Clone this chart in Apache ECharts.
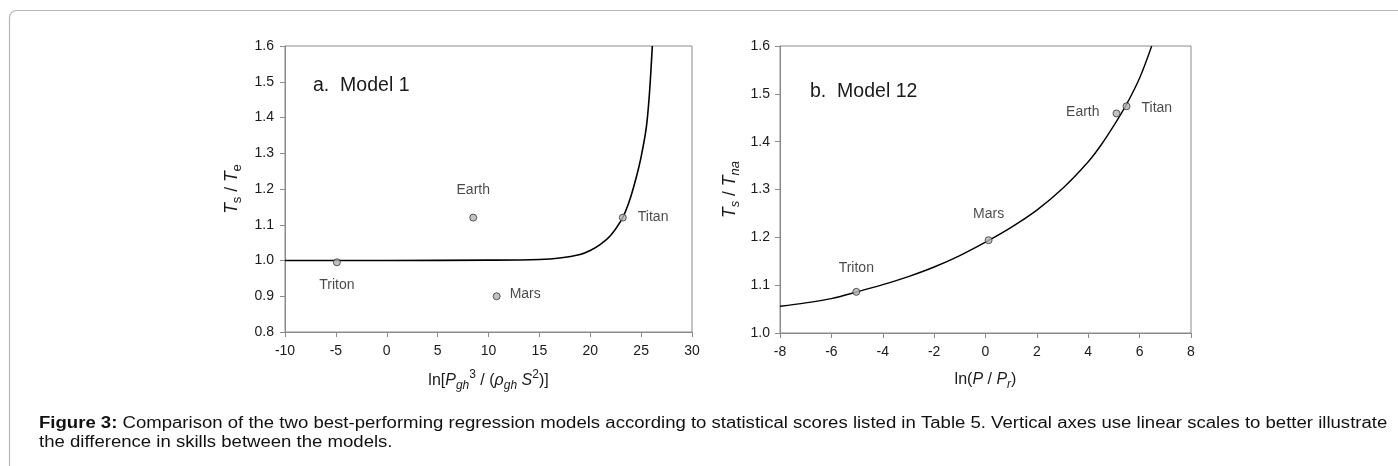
<!DOCTYPE html>
<html>
<head>
<meta charset="utf-8">
<script src="https://cdn.jsdelivr.net/npm/echarts@6/dist/echarts.min.js"></script>
<style>
html,body{margin:0;padding:0;background:#fff;}
#c{width:1398px;height:466px;}
</style>
</head>
<body>
<div id="c"></div>
<script>
// ---- Panel a (Model 1) ----
const aNames = ['Triton', 'Earth', 'Mars', 'Titan'];
const aX = [-4.9, 8.5, 10.8, 23.2];
const aY = [0.995, 1.12, 0.90, 1.12];
const aCurveX = [-10, 0, 10, 15, 17, 19, 20, 21, 22, 23, 23.5, 24, 24.5, 25, 25.5, 25.8, 26.1];
const aCurveY = [1.0, 1.0, 1.001, 1.003, 1.007, 1.017, 1.028, 1.045, 1.07, 1.11, 1.14, 1.18, 1.23, 1.29, 1.37, 1.46, 1.6];
const aXTicks = [-10, -5, 0, 5, 10, 15, 20, 25, 30];
const aYTicks = [0.8, 0.9, 1.0, 1.1, 1.2, 1.3, 1.4, 1.5, 1.6];

// ---- Panel b (Model 12) ----
const bNames = ['Triton', 'Mars', 'Earth', 'Titan'];
const bX = [-5.03, 0.12, 5.1, 5.49];
const bY = [1.086, 1.194, 1.459, 1.474];
const bCurveX = [-8, -7, -6, -5, -4, -3, -2, -1, 0, 1, 2, 3, 4, 4.5, 5, 5.5, 6, 6.47];
const bCurveY = [1.056, 1.063, 1.072, 1.086, 1.101, 1.118, 1.138, 1.162, 1.190, 1.221, 1.257, 1.302, 1.358, 1.393, 1.434, 1.479, 1.533, 1.6];
const bXTicks = [-8, -6, -4, -2, 0, 2, 4, 6, 8];
const bYTicks = [1.0, 1.1, 1.2, 1.3, 1.4, 1.5, 1.6];

const captionLine1 = 'Comparison of the two best-performing regression models according to statistical scores listed in Table 5. Vertical axes use linear scales to better illustrate';
const captionLine2 = 'the difference in skills between the models.';

const FONT = 'Liberation Sans, Arial, sans-serif';
const AX = '#8a8a8a';
const TXT = '#1a1a1a';

function mkRich(main, small) {
  return {
    n: {fontSize: main, fontFamily: FONT, color: TXT, lineHeight: main + 7, verticalAlign: 'middle'},
    i: {fontSize: main, fontFamily: FONT, fontStyle: 'italic', color: TXT, lineHeight: main + 7, verticalAlign: 'middle'},
    sub: {fontSize: small, fontFamily: FONT, fontStyle: 'italic', color: TXT, lineHeight: small - 1, verticalAlign: 'bottom'},
    subn: {fontSize: small, fontFamily: FONT, color: TXT, lineHeight: small - 1, verticalAlign: 'bottom'},
    sup: {fontSize: small, fontFamily: FONT, color: TXT, lineHeight: small + 1, verticalAlign: 'top'}
  };
}
const richX = mkRich(16, 12);
const richY = mkRich(17.5, 13);

function xAxisCfg(idx, ticks, name, gap) {
  return {
    type: 'value', gridIndex: idx,
    min: ticks[0], max: ticks[ticks.length - 1], interval: ticks[1] - ticks[0],
    name: name, nameLocation: 'middle', nameGap: gap,
    nameTextStyle: {rich: richX},
    axisLine: {show: true, onZero: false, lineStyle: {color: AX, width: 1}},
    axisTick: {show: true, length: 5, lineStyle: {color: AX}},
    axisLabel: {fontSize: 14, fontFamily: FONT, color: TXT, margin: 12},
    splitLine: {show: false}
  };
}
function yAxisCfg(idx, ticks, name, gap, margin) {
  return {
    type: 'value', gridIndex: idx,
    min: ticks[0], max: ticks[ticks.length - 1], interval: 0.1,
    name: name, nameLocation: 'middle', nameGap: gap, nameRotate: 90,
    nameTextStyle: {rich: richY},
    axisLine: {show: true, onZero: false, lineStyle: {color: AX, width: 1}},
    axisTick: {show: true, length: 5, lineStyle: {color: AX}},
    axisLabel: {fontSize: 14, fontFamily: FONT, color: TXT, margin: margin, formatter: v => v.toFixed(1)},
    splitLine: {show: false}
  };
}

function pts(xs, ys) { return xs.map((x, k) => [x, ys[k]]); }

// label placement styles (offsets in px relative to marker)
const aLabelPos = {
  Triton: {position: 'bottom', distance: 12, offset: [0, 0]},
  Earth: {position: 'top', distance: 16, offset: [0, 0]},
  Mars: {position: 'right', distance: 9, offset: [0, -2]},
  Titan: {position: 'right', distance: 11, offset: [0, 0]}
};
const bLabelPos = {
  Triton: {position: 'top', distance: 13, offset: [0, 0]},
  Mars: {position: 'top', distance: 15, offset: [0, 0]},
  Earth: {position: 'left', distance: 13, offset: [0, -1]},
  Titan: {position: 'right', distance: 11, offset: [0, 2]}
};

function scatterData(names, xs, ys, posMap) {
  return names.map((nm, k) => ({
    name: nm, value: [xs[k], ys[k]],
    label: Object.assign({show: true, formatter: '{b}', fontSize: 14, fontFamily: FONT, color: TXT}, posMap[nm])
  }));
}

const markerStyle = {color: '#b4b4b4', borderColor: '#333', borderWidth: 1};

const chart = echarts.init(document.getElementById('c'), null, {renderer: 'canvas'});
chart.setOption({
  backgroundColor: '#fff',
  animation: false,
  grid: [
    {left: 285, top: 46, width: 407, height: 286, show: true, borderColor: AX, borderWidth: 1, backgroundColor: 'transparent'},
    {left: 780, top: 46, width: 411, height: 287, show: true, borderColor: AX, borderWidth: 1, backgroundColor: 'transparent'}
  ],
  xAxis: [
    xAxisCfg(0, aXTicks, '{n|ln[}{i|P}{sub|gh}{sup|3}{n| / (}{i|ρ}{sub|gh}{n| }{i|S}{sup|2}{n|)]}', 37),
    xAxisCfg(1, bXTicks, '{n|ln(}{i|P}{n| / }{i|P}{sub|r}{n|)}', 35)
  ],
  yAxis: [
    yAxisCfg(0, aYTicks, '{i|T}{subn|s}{n| / }{i|T}{subn|e}', 41, 11),
    yAxisCfg(1, bYTicks, '{i|T}{sub|s}{n| / }{i|T}{sub|na}', 38, 10)
  ],
  title: [
    {text: 'a.  Model 1', left: 313, top: 76, padding: 0, textStyle: {fontSize: 19.5, fontWeight: 'normal', fontFamily: FONT, color: TXT}},
    {text: 'b.  Model 12', left: 810, top: 82, padding: 0, textStyle: {fontSize: 19.5, fontWeight: 'normal', fontFamily: FONT, color: TXT}}
  ],
  series: [
    {type: 'line', xAxisIndex: 0, yAxisIndex: 0, data: pts(aCurveX, aCurveY), smooth: 0.35, showSymbol: false, symbol: 'none',
     lineStyle: {color: '#000', width: 1.6}, z: 2},
    {type: 'scatter', xAxisIndex: 0, yAxisIndex: 0, data: scatterData(aNames, aX, aY, aLabelPos), symbolSize: 7,
     itemStyle: markerStyle, z: 3},
    {type: 'line', xAxisIndex: 1, yAxisIndex: 1, data: pts(bCurveX, bCurveY), smooth: 0.35, showSymbol: false, symbol: 'none',
     lineStyle: {color: '#000', width: 1.4}, z: 2},
    {type: 'scatter', xAxisIndex: 1, yAxisIndex: 1, data: scatterData(bNames, bX, bY, bLabelPos), symbolSize: 7,
     itemStyle: markerStyle, z: 3}
  ],
  graphic: [
    {type: 'rect', shape: {x: 9.5, y: 10.5, width: 1500, height: 600, r: 7}, style: {fill: 'none', stroke: '#b5b5b5', lineWidth: 1.2}, silent: true},
    {type: 'text', x: 39, y: 416, scaleX: 1.16, style: {
      text: '{b|Figure 3:} ' + captionLine1, fontSize: 16, fontFamily: FONT, fill: '#111',
      rich: {b: {fontWeight: 'bold', fontSize: 16, fontFamily: FONT, fill: '#111'}}
    }},
    {type: 'text', x: 39, y: 435, scaleX: 1.16, style: {text: captionLine2, fontSize: 16, fontFamily: FONT, fill: '#111'}}
  ]
});
</script>
</body>
</html>
